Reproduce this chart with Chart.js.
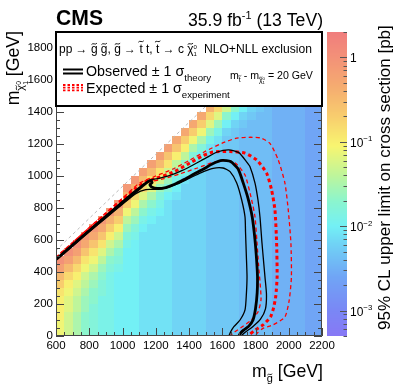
<!DOCTYPE html>
<html>
<head>
<meta charset="utf-8">
<script src="https://cdn.jsdelivr.net/npm/chart.js@4.4.0/dist/chart.umd.min.js"></script>
<style>
html, body { margin: 0; padding: 0; background: #fff; }
canvas { display: block; }
</style>
</head>
<body>
<canvas id="limitChart" width="399" height="391"></canvas>
<script>
const FONT = '"Liberation Sans", Arial, Helvetica, sans-serif';

// 2D bins, 50 GeV wide (lower edges)
const binWidth = 50;
const gluinoBins = [600, 650, 700, 750, 800, 850, 900, 950, 1000, 1050, 1100, 1150, 1200, 1250, 1300, 1350,
    1400, 1450, 1500, 1550, 1600, 1650, 1700, 1750, 1800, 1850, 1900, 1950, 2000, 2050, 2100, 2150];
const neutralinoBins = [0, 50, 100, 150, 200, 250, 300, 350, 400, 450, 500, 550, 600, 650, 700, 750,
    800, 850, 900, 950, 1000, 1050, 1100, 1150, 1200, 1250, 1300, 1350, 1400];

// 95% CL upper limit, 10*log10(pb), one column per gluino bin, from m_chi = 0 upwards
const limitTenthsLog = [
    [-11, -11, -10, -10, -10, -9, -7, -5, -2, 0],
    [-13, -13, -13, -12, -12, -11, -10, -8, -5, -2, 0],
    [-15, -15, -15, -14, -14, -13, -12, -10, -8, -5, -2, 0],
    [-17, -17, -17, -16, -16, -15, -14, -13, -11, -9, -6, -3, -1],
    [-18, -18, -18, -18, -17, -17, -16, -15, -13, -11, -9, -6, -3, -1],
    [-19, -19, -19, -19, -19, -18, -18, -17, -16, -14, -12, -9, -6, -3, -1],
    [-19, -19, -19, -19, -19, -19, -19, -19, -18, -17, -15, -13, -10, -7, -4, -1],
    [-20, -20, -20, -20, -20, -20, -20, -20, -19, -18, -17, -15, -13, -10, -7, -4, -1],
    [-20, -20, -20, -20, -20, -20, -20, -20, -20, -20, -20, -19, -18, -16, -14, -11, -7, -4, -1],
    [-20, -20, -20, -20, -20, -20, -20, -20, -20, -20, -20, -20, -19, -18, -16, -14, -11, -8, -4, -1],
    [-21, -21, -21, -21, -21, -21, -21, -21, -21, -21, -21, -21, -21, -20, -19, -17, -15, -12, -8, -5, -2],
    [-21, -21, -21, -21, -21, -21, -21, -21, -21, -21, -21, -21, -21, -21, -20, -19, -17, -15, -12, -9, -5, -2],
    [-21, -21, -21, -21, -21, -21, -21, -21, -21, -21, -21, -21, -21, -21, -21, -20, -19, -18, -16, -13, -9, -5, -2],
    [-21, -21, -21, -21, -21, -21, -21, -21, -21, -21, -21, -21, -21, -21, -21, -21, -21, -20, -18, -16, -13, -9, -6, -2],
    [-22, -22, -22, -22, -22, -22, -22, -22, -22, -22, -22, -22, -22, -22, -22, -22, -22, -21, -20, -19, -17, -14, -10, -6, -3],
    [-22, -22, -22, -22, -22, -22, -22, -22, -22, -22, -22, -22, -22, -22, -22, -22, -22, -22, -22, -21, -19, -17, -14, -10, -7, -3],
    [-22, -22, -22, -22, -22, -22, -22, -22, -22, -22, -22, -22, -22, -22, -22, -22, -22, -22, -22, -22, -21, -20, -18, -15, -11, -7, -3],
    [-22, -22, -22, -22, -22, -22, -22, -22, -22, -22, -22, -22, -22, -22, -22, -22, -22, -22, -22, -22, -22, -21, -20, -18, -15, -11, -7, -3],
    [-23, -23, -23, -23, -23, -23, -23, -23, -23, -23, -23, -23, -23, -23, -23, -23, -23, -23, -23, -23, -23, -23, -22, -21, -19, -16, -12, -8, -4],
    [-23, -23, -23, -23, -23, -23, -23, -23, -23, -23, -23, -23, -23, -23, -23, -23, -23, -23, -23, -23, -23, -23, -23, -22, -21, -19, -16, -12, -8],
    [-23, -23, -23, -23, -23, -23, -23, -23, -23, -23, -23, -23, -23, -23, -23, -23, -23, -23, -23, -23, -23, -23, -23, -23, -23, -22, -20, -17, -13],
    [-23, -23, -23, -23, -23, -23, -23, -23, -23, -23, -23, -23, -23, -23, -23, -23, -23, -23, -23, -23, -23, -23, -23, -23, -23, -23, -22, -20, -17],
    [-24, -24, -24, -24, -24, -24, -24, -24, -24, -24, -24, -24, -24, -24, -24, -24, -24, -24, -24, -24, -24, -24, -24, -24, -24, -24, -23, -22, -20],
    [-24, -24, -24, -24, -24, -24, -24, -24, -24, -24, -24, -24, -24, -24, -24, -24, -24, -24, -24, -24, -24, -24, -24, -24, -24, -24, -24, -23, -22],
    [-24, -24, -24, -24, -24, -24, -24, -24, -24, -24, -24, -24, -24, -24, -24, -24, -24, -24, -24, -24, -24, -24, -24, -24, -24, -24, -24, -24, -23],
    [-24, -24, -24, -24, -24, -24, -24, -24, -24, -24, -24, -24, -24, -24, -24, -24, -24, -24, -24, -24, -24, -24, -24, -24, -24, -24, -24, -24, -24],
    [-25, -25, -25, -25, -25, -25, -25, -25, -25, -25, -25, -25, -25, -25, -25, -25, -25, -25, -25, -25, -25, -25, -25, -25, -25, -25, -25, -25, -25],
    [-25, -25, -25, -25, -25, -25, -25, -25, -25, -25, -25, -25, -25, -25, -25, -25, -25, -25, -25, -25, -25, -25, -25, -25, -25, -25, -25, -25, -25],
    [-25, -25, -25, -25, -25, -25, -25, -25, -25, -25, -25, -25, -25, -25, -25, -25, -25, -25, -25, -25, -25, -25, -25, -25, -25, -25, -25, -25, -25],
    [-25, -25, -25, -25, -25, -25, -25, -25, -25, -25, -25, -25, -25, -25, -25, -25, -25, -25, -25, -25, -25, -25, -25, -25, -25, -25, -25, -25, -25],
    [-26, -26, -26, -26, -26, -26, -26, -26, -26, -26, -26, -26, -26, -26, -26, -26, -26, -26, -26, -26, -26, -26, -26, -26, -26, -26, -26, -26, -26],
    [-26, -26, -26, -26, -26, -26, -26, -26, -26, -26, -26, -26, -26, -26, -26, -26, -26, -26, -26, -26, -26, -26, -26, -26, -26, -26, -26, -26, -26]
];

// exclusion contours [m_gluino, m_chi]
const observedContour = [[600, 478], [700, 568], [800, 658], [900, 746], [1000, 834], [1080, 902], [1130, 946],
    [1155, 966], [1172, 972], [1178, 958], [1165, 946], [1175, 932], [1210, 922], [1260, 928], [1310, 947],
    [1370, 978], [1430, 1012], [1490, 1045], [1545, 1078], [1600, 1097], [1650, 1090], [1695, 1045], [1725, 960],
    [1755, 860], [1780, 745], [1797, 600], [1807, 470], [1812, 370], [1810, 270], [1800, 170], [1785, 100],
    [1760, 62], [1730, 38], [1710, 18], [1700, 0]];
const theoryDownContour = [[600, 474], [700, 563], [800, 651], [900, 738], [1000, 824], [1080, 890], [1140, 915],
    [1200, 916], [1260, 925], [1330, 950], [1400, 985], [1470, 1020], [1545, 1048], [1605, 1050], [1647, 1027],
    [1687, 956], [1717, 850], [1737, 744], [1740, 650], [1745, 500], [1749, 370], [1745, 260], [1737, 163],
    [1707, 100], [1670, 58], [1650, 25], [1640, 0]];
const theoryUpContour = [[600, 482], [700, 572], [800, 663], [900, 752], [1000, 842], [1080, 912], [1130, 952],
    [1170, 975], [1220, 985], [1290, 1005], [1360, 1035], [1430, 1072], [1500, 1112], [1570, 1150], [1640, 1163],
    [1700, 1146], [1745, 1090], [1767, 1058], [1797, 956], [1815, 850], [1827, 744], [1839, 581], [1850, 450],
    [1857, 369], [1866, 260], [1860, 170], [1830, 105], [1785, 60], [1740, 25], [1712, 0]];
const expectedContour = [[600, 486], [700, 578], [800, 670], [900, 762], [1000, 853], [1080, 922], [1140, 965],
    [1200, 985], [1300, 1022], [1406, 1081], [1480, 1125], [1544, 1150], [1647, 1153], [1737, 1143], [1807, 1100],
    [1867, 1018], [1897, 912], [1917, 788], [1927, 581], [1930, 369], [1922, 250], [1910, 181], [1890, 119],
    [1845, 69], [1797, 37], [1767, 12], [1755, 0]];
const expectedUpContour = [[600, 492], [700, 585], [800, 678], [900, 770], [1000, 862], [1060, 918], [1100, 955],
    [1200, 1000], [1300, 1042], [1406, 1100], [1500, 1155], [1597, 1204], [1680, 1235], [1760, 1242], [1830, 1238],
    [1887, 1204], [1937, 1100], [1977, 956], [1997, 788], [2013, 581], [2016, 369], [2003, 225], [1977, 119],
    [1905, 69], [1845, 48], [1812, 20], [1800, 0]];
const expectedDownContour = [[600, 483], [700, 574], [800, 665], [900, 756], [1000, 847], [1100, 928], [1150, 958],
    [1250, 984], [1350, 1015], [1450, 1050], [1550, 1086], [1620, 1098], [1680, 1080], [1737, 1006], [1777, 850],
    [1797, 744], [1808, 600], [1818, 450], [1830, 300], [1833, 225], [1815, 150], [1770, 95], [1710, 50],
    [1665, 18], [1645, 0]];
const diagonalLine = [[600, 535], [1965, 1900]];

// colour scale
const zMin = 5e-4;
const zMax = 2;
const zMajorTicks = [1e-3, 1e-2, 1e-1, 1];
const zTickLabels = [['10', '\u22123'], ['10', '\u22122'], ['10', '\u22121'], ['1', '']];
const colourStops = [
    [-3.30, 135, 120, 245], [-3.00, 122, 135, 245], [-2.60, 112, 165, 245], [-2.20, 112, 212, 245],
    [-2.00, 115, 240, 245], [-1.70, 140, 245, 205], [-1.40, 190, 245, 155], [-1.05, 248, 245, 112],
    [-0.70, 248, 205, 110], [-0.35, 245, 172, 112], [0.00, 243, 145, 120], [0.30, 240, 125, 125]
];

function colourFor(v) {
    const s = colourStops;
    if (v <= s[0][0]) return `rgb(${s[0][1]},${s[0][2]},${s[0][3]})`;
    for (let i = 1; i < s.length; i++) {
        if (v <= s[i][0]) {
            const f = (v - s[i - 1][0]) / (s[i][0] - s[i - 1][0]);
            const c = [1, 2, 3].map(k => Math.round(s[i - 1][k] + f * (s[i][k] - s[i - 1][k])));
            return `rgb(${c[0]},${c[1]},${c[2]})`;
        }
    }
    const l = s[s.length - 1];
    return `rgb(${l[1]},${l[2]},${l[3]})`;
}

function drawTilde(ctx, cx, cy, w, lw) {
    const a = w * 0.13;
    ctx.save();
    ctx.lineWidth = Math.max(lw, 0.6);
    ctx.strokeStyle = ctx.fillStyle;
    ctx.beginPath();
    ctx.moveTo(cx - w / 2, cy + a);
    ctx.bezierCurveTo(cx - w / 4, cy - a * 2.2, cx + w / 4, cy + a * 2.2, cx + w / 2, cy - a);
    ctx.stroke();
    ctx.restore();
}

// text with sub/superscripts and tildes; returns width
function rich(ctx, x, y, parts, size, draw) {
    let cx = x;
    ctx.textAlign = 'left';
    ctx.textBaseline = 'alphabetic';
    for (const p of parts) {
        if (p.stack) {
            ctx.font = (size * p.k) + 'px ' + FONT;
            const w = Math.max(ctx.measureText(p.stack[0]).width, ctx.measureText(p.stack[1]).width);
            if (draw) {
                ctx.fillText(p.stack[0], cx, y + p.up * size);
                ctx.fillText(p.stack[1], cx, y + p.down * size);
            }
            cx += w;
            continue;
        }
        const fs = size * (p.k || 1);
        const yy = y + (p.dy || 0) * size;
        ctx.font = (p.bold ? 'bold ' : '') + fs + 'px ' + FONT;
        const w = ctx.measureText(p.t).width;
        if (draw) {
            ctx.fillText(p.t, cx, yy);
            if (p.tilde) drawTilde(ctx, cx + w / 2, yy - fs * p.tilde, fs * 0.45, fs * 0.075);
        }
        cx += w;
    }
    return cx - x;
}

function fitSize(ctx, parts, target, base) {
    return base * target / rich(ctx, 0, 0, parts, base, false);
}

const limitPlugin = {
    id: 'limitPlugin',
    beforeDraw(chart) {
        const ctx = chart.ctx;
        ctx.save();
        ctx.fillStyle = '#fff';
        ctx.fillRect(0, 0, chart.width, chart.height);
        ctx.restore();
    },
    beforeDatasetsDraw(chart) {
        const { ctx, chartArea: a, scales: { x, y } } = chart;
        ctx.save();
        ctx.beginPath();
        ctx.rect(a.left, a.top, a.right - a.left, a.bottom - a.top);
        ctx.clip();
        limitTenthsLog.forEach((col, i) => {
            const x0 = Math.round(x.getPixelForValue(gluinoBins[i]));
            const x1 = Math.round(x.getPixelForValue(gluinoBins[i] + binWidth));
            col.forEach((v, j) => {
                const y0 = Math.round(y.getPixelForValue(neutralinoBins[j]));
                const y1 = Math.round(y.getPixelForValue(neutralinoBins[j] + binWidth));
                ctx.fillStyle = colourFor(v / 10);
                ctx.fillRect(x0, y1, x1 - x0, y0 - y1);
            });
        });
        ctx.restore();
    },
    afterDatasetsDraw(chart) {
        const { ctx, chartArea: a, scales: { x, y, z } } = chart;
        ctx.save();

        // frame and inward ticks
        ctx.strokeStyle = '#444';
        ctx.lineWidth = 1;
        ctx.beginPath();
        ctx.moveTo(a.left + 0.5, a.top);
        ctx.lineTo(a.left + 0.5, a.bottom - 0.5);
        ctx.lineTo(a.right - 0.5, a.bottom - 0.5);
        ctx.lineTo(a.right - 0.5, a.top);
        for (let v = 600; v <= 2200; v += 50) {
            const px = Math.round(x.getPixelForValue(v)) + 0.5;
            const len = v % 200 === 0 ? 8 : 4;
            ctx.moveTo(px, a.bottom);
            ctx.lineTo(px, a.bottom - len);
        }
        for (let v = 0; v <= 1900; v += 50) {
            const py = Math.round(y.getPixelForValue(v)) + 0.5;
            const len = v % 200 === 0 ? 8 : 4;
            ctx.moveTo(a.left, py);
            ctx.lineTo(a.left + len, py);
            ctx.moveTo(a.right, py);
            ctx.lineTo(a.right - len, py);
        }
        ctx.stroke();

        // colour bar
        const cbL = 327, cbR = 347;
        const top = Math.round(z.getPixelForValue(zMax));
        const bot = Math.round(z.getPixelForValue(zMin));
        for (let py = top; py < bot; py++) {
            ctx.fillStyle = colourFor(Math.log10(z.getValueForPixel(py + 0.5)));
            ctx.fillRect(cbL, py, cbR - cbL, 1);
        }
        ctx.strokeStyle = '#555';
        ctx.beginPath();
        for (let d = -4; d <= 0; d++) {
            for (let m = 1; m <= 9; m++) {
                const val = m * Math.pow(10, d);
                if (val < zMin || val > zMax) continue;
                const py = Math.round(z.getPixelForValue(val)) + 0.5;
                const len = m === 1 ? 7 : 3.5;
                ctx.moveTo(cbR, py);
                ctx.lineTo(cbR - len, py);
            }
        }
        ctx.stroke();
        ctx.fillStyle = '#000';
        zMajorTicks.forEach((val, i) => {
            const py = z.getPixelForValue(val);
            const [base, exp] = zTickLabels[i];
            rich(ctx, 350, py + 5, [{ t: base }, { t: exp, k: 0.65, dy: -0.45 }], 12, true);
        });

        // legend box
        ctx.fillStyle = '#fff';
        ctx.fillRect(56, 32, 266, 74);
        ctx.strokeStyle = '#000';
        ctx.lineWidth = 2;
        ctx.strokeRect(56, 32, 266, 74);

        ctx.fillStyle = '#000';
        const line1 = [{ t: 'pp \u2192 ' }, { t: 'g', tilde: 0.72 }, { t: ' ' }, { t: 'g', tilde: 0.72 },
            { t: ', ' }, { t: 'g', tilde: 0.72 }, { t: ' \u2192 ' }, { t: 't', tilde: 0.92 }, { t: ' t, ' },
            { t: 't', tilde: 0.92 }, { t: ' \u2192 c ' }, { t: '\u03c7', tilde: 0.72 },
            { stack: ['0', '1'], k: 0.5, up: -0.32, down: 0.28 }];
        rich(ctx, 59, 52.5, line1, fitSize(ctx, line1, 138, 11), true);
        const line1b = [{ t: 'NLO+NLL exclusion' }];
        rich(ctx, 204, 52.5, line1b, fitSize(ctx, line1b, 108, 11), true);

        const obsText = [{ t: 'Observed \u00b1 1 \u03c3' }, { t: 'theory', k: 0.68, dy: 0.38 }];
        const expText = [{ t: 'Expected \u00b1 1 \u03c3' }, { t: 'experiment', k: 0.68, dy: 0.38 }];
        const lsz = (fitSize(ctx, obsText, 125, 14) + fitSize(ctx, expText, 144, 14)) / 2;
        rich(ctx, 86, 76, obsText, lsz, true);
        rich(ctx, 86, 93, expText, lsz, true);

        const dmText = [{ t: 'm' }, { t: 't', k: 0.65, dy: 0.3, tilde: 0.92 }, { t: ' - m' },
            { t: '\u03c7', k: 0.65, dy: 0.3, tilde: 0.72 }, { stack: ['0', '1'], k: 0.4, up: 0.05, down: 0.5 },
            { t: ' = 20 GeV' }];
        rich(ctx, 230, 79, dmText, fitSize(ctx, dmText, 83, 9), true);

        // legend symbols
        ctx.strokeStyle = '#000';
        ctx.lineWidth = 2;
        [69.5, 73.5].forEach(ly => {
            ctx.beginPath();
            ctx.moveTo(63, ly);
            ctx.lineTo(83, ly);
            ctx.stroke();
        });
        ctx.strokeStyle = '#ff0000';
        ctx.lineWidth = 1.8;
        ctx.setLineDash([2.5, 2]);
        [85, 87.7, 90.4].forEach(ly => {
            ctx.beginPath();
            ctx.moveTo(63, ly);
            ctx.lineTo(83, ly);
            ctx.stroke();
        });
        ctx.setLineDash([]);

        // titles
        ctx.fillStyle = '#000';
        const cms = [{ t: 'CMS', bold: true }];
        rich(ctx, 56, 25, cms, fitSize(ctx, cms, 47, 19), true);
        const lumi = [{ t: '35.9 fb' }, { t: '-1', k: 0.62, dy: -0.42 }, { t: ' (13 TeV)' }];
        const lumiSize = fitSize(ctx, lumi, 135, 15.5);
        rich(ctx, 323 - 135, 26, lumi, lumiSize, true);

        const xTitle = [{ t: 'm' }, { t: 'g', k: 0.62, dy: 0.3, tilde: 0.72 }, { t: ' [GeV]' }];
        const axSize = fitSize(ctx, xTitle, 71, 18);
        rich(ctx, 323 - 71, 377, xTitle, axSize, true);

        const yTitle = [{ t: 'm' }, { t: '\u03c7', k: 0.62, dy: 0.3, tilde: 0.72 },
            { stack: ['0', '1'], k: 0.38, up: 0.12, down: 0.52 }, { t: ' [GeV]' }];
        const yW = rich(ctx, 0, 0, yTitle, axSize, false);
        ctx.save();
        ctx.translate(19, 31 + yW);
        ctx.rotate(-Math.PI / 2);
        rich(ctx, 0, 0, yTitle, axSize, true);
        ctx.restore();

        const zTitle = [{ t: '95% CL upper limit on cross section [pb]' }];
        const zSize = fitSize(ctx, zTitle, 305, 15.5);
        ctx.save();
        ctx.translate(390, 330);
        ctx.rotate(-Math.PI / 2);
        rich(ctx, 0, 0, zTitle, zSize, true);
        ctx.restore();

        ctx.restore();
    }
};

function contourSet(points, colour, width, dash) {
    return {
        data: points.map(([mg, mchi]) => ({ x: mg, y: mchi })),
        showLine: true,
        borderColor: colour,
        borderWidth: width,
        borderDash: dash,
        pointRadius: 0,
        fill: false,
        tension: 0.2
    };
}

const tickFont = { family: FONT, size: 11.5 };

new Chart(document.getElementById('limitChart').getContext('2d'), {
    type: 'scatter',
    data: {
        datasets: [
            contourSet(observedContour, '#000', 2.8, []),
            contourSet(theoryUpContour, '#000', 1.3, []),
            contourSet(theoryDownContour, '#000', 1.3, []),
            contourSet(expectedContour, '#ff0000', 3, [3.5, 3]),
            contourSet(expectedUpContour, '#ff0000', 1.3, [4, 3]),
            contourSet(expectedDownContour, '#ff0000', 1.3, [4, 3]),
            contourSet(diagonalLine, '#bbbbbb', 1, [3, 3])
        ]
    },
    options: {
        responsive: false,
        animation: false,
        devicePixelRatio: 1,
        layout: { padding: { top: 32, right: 77, left: 0, bottom: 0 } },
        plugins: { legend: { display: false }, tooltip: { enabled: false } },
        scales: {
            x: {
                type: 'linear', min: 600, max: 2200,
                grid: { display: false, drawTicks: false },
                border: { display: false },
                ticks: { stepSize: 200, padding: 3, font: tickFont, color: '#000', autoSkip: false, maxRotation: 0,
                    callback: v => String(v) },
                afterFit: s => { s.height = 55; }
            },
            y: {
                type: 'linear', min: 0, max: 1900,
                grid: { display: false, drawTicks: false },
                border: { display: false },
                ticks: { stepSize: 200, padding: 3, font: tickFont, color: '#000', autoSkip: false,
                    callback: v => String(v) },
                afterBuildTicks: s => { s.ticks = s.ticks.filter(t => t.value % 200 === 0); },
                afterFit: s => { s.width = 56; }
            },
            z: {
                type: 'logarithmic', position: 'right', min: zMin, max: zMax, display: false
            }
        }
    },
    plugins: [limitPlugin]
});
</script>
</body>
</html>
